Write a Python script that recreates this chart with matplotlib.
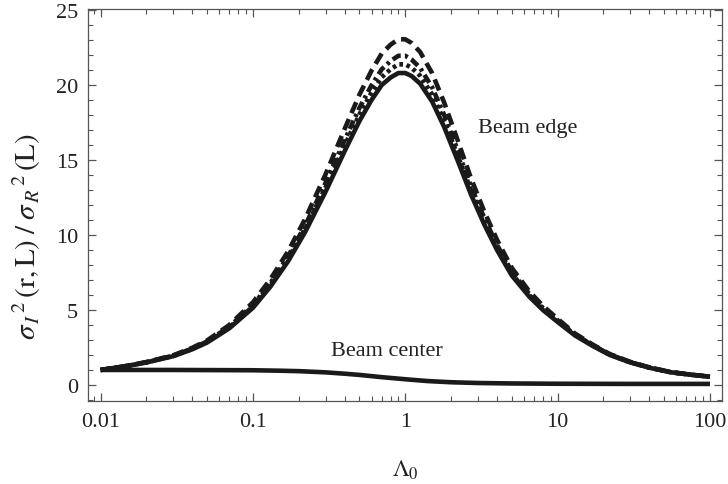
import matplotlib
matplotlib.use("Agg")
import matplotlib.pyplot as plt
from matplotlib.ticker import FixedLocator, FixedFormatter, LogLocator, MultipleLocator, NullFormatter

plt.rcParams['font.family'] = ['Liberation Serif', 'DejaVu Serif']
plt.rcParams['mathtext.fontset'] = 'stix'

# Normalised scintillation index vs. Fresnel parameter Lambda_0
lam = [0.01, 0.015, 0.02, 0.03, 0.04, 0.05, 0.07, 0.1, 0.13, 0.17, 0.22, 0.3,
       0.4, 0.5, 0.6, 0.7, 0.8, 0.9, 1.0, 1.1, 1.25, 1.5, 1.8, 2.2, 2.7, 3.3,
       4, 5, 6.5, 8, 10, 13, 17, 22, 30, 40, 55, 75, 100]

edge_solid = [1.00, 1.27, 1.50, 1.92, 2.38, 2.83, 3.78, 5.15, 6.55, 8.25, 10.2, 12.9,
              15.6, 17.6, 19.0, 20.0, 20.5, 20.8, 20.8, 20.6, 20.1, 18.9, 17.2, 15.0, 12.7, 10.7,
              9.0, 7.3, 5.9, 5.0, 4.2, 3.3, 2.6, 2.0, 1.5, 1.15, 0.85, 0.68, 0.55]

edge_dotted = [1.00, 1.27, 1.51, 1.94, 2.41, 2.87, 3.84, 5.24, 6.67, 8.42, 10.42, 13.19,
               15.97, 18.04, 19.49, 20.52, 21.05, 21.38, 21.38, 21.15, 20.62, 19.37, 17.6, 15.34, 12.97, 10.92,
               9.17, 7.43, 6.0, 5.07, 4.26, 3.34, 2.63, 2.02, 1.51, 1.16, 0.85, 0.68, 0.55]

edge_dashdot = [1.00, 1.27, 1.52, 1.95, 2.43, 2.90, 3.89, 5.33, 6.79, 8.58, 10.63, 13.48,
                16.33, 18.48, 19.98, 21.05, 21.6, 21.95, 21.95, 21.7, 21.15, 19.85, 18.0, 15.68, 13.24, 11.13,
                9.34, 7.56, 6.08, 5.14, 4.31, 3.37, 2.65, 2.03, 1.52, 1.16, 0.86, 0.68, 0.55]

edge_dashed = [1.00, 1.28, 1.53, 1.98, 2.48, 2.97, 4.00, 5.51, 7.04, 8.91, 11.07, 14.06,
               17.08, 19.36, 20.96, 22.10, 22.69, 23.05, 23.05, 22.80, 22.21, 20.79, 18.83, 16.35, 13.78, 11.56,
               9.68, 7.81, 6.25, 5.28, 4.41, 3.43, 2.69, 2.06, 1.54, 1.17, 0.86, 0.69, 0.55]

lam_center = [0.01, 0.03, 0.1, 0.15, 0.2, 0.3, 0.4, 0.5, 0.7, 1.0, 1.4, 2, 3, 5, 10, 30, 100]
center = [1.0, 1.0, 0.98, 0.95, 0.92, 0.84, 0.75, 0.67, 0.52, 0.38, 0.26, 0.18, 0.13, 0.10, 0.08, 0.07, 0.07]

x_ticks = [0.01, 0.1, 1, 10, 100]
x_tick_labels = ["0.01", "0.1", "1", "10", "100"]
y_ticks = [0, 5, 10, 15, 20, 25]

ink = '#1a1a1a'
frame = '#555555'
text_col = '#222222'
lw = 3.3

fig = plt.figure(figsize=(7.28, 4.85), dpi=100)
ax = fig.add_axes([88 / 728, 83 / 485, (722 - 88) / 728, (402 - 10) / 485])

ax.plot(lam, edge_solid, color=ink, lw=lw, solid_capstyle='butt')
ax.plot(lam, edge_dotted, color=ink, lw=lw, linestyle=(0, (0.8, 0.8)), dash_capstyle='butt')
ax.plot(lam, edge_dashdot, color=ink, lw=lw, linestyle=(0, (2.0, 0.9, 0.7, 0.9)), dash_capstyle='butt')
ax.plot(lam, edge_dashed, color=ink, lw=lw, linestyle=(0, (2.6, 1.4)), dash_capstyle='butt')
ax.plot(lam_center, center, color=ink, lw=lw, solid_capstyle='butt')

ax.set_xscale('log')
ax.set_xlim(10 ** -2.083, 10 ** 2.079)
ax.set_ylim(-1.07, 25.07)

ax.xaxis.set_major_locator(FixedLocator(x_ticks))
ax.xaxis.set_major_formatter(FixedFormatter(x_tick_labels))
ax.xaxis.set_minor_locator(LogLocator(base=10, subs=range(2, 10), numticks=20))
ax.xaxis.set_minor_formatter(NullFormatter())
ax.yaxis.set_major_locator(FixedLocator(y_ticks))
ax.yaxis.set_minor_locator(MultipleLocator(1))

ax.tick_params(which='both', direction='in', top=True, right=True, color=frame,
               labelsize=16, labelcolor=text_col)
ax.tick_params(which='major', length=6, width=0.9)
ax.tick_params(which='minor', length=3.5, width=0.8)
ax.tick_params(axis='x', which='major', pad=8)
ax.tick_params(axis='y', which='major', pad=7)
for s in ax.spines.values():
    s.set_color(frame)
    s.set_linewidth(0.9)

ax.text(2.98, 17.2, "Beam edge", fontsize=16, ha='left', va='center', color=text_col)
ax.text(0.755, 2.27, "Beam center", fontsize=16, ha='center', va='center', color=text_col)

fig.text(27 / 728, 1 - 237 / 485,
         r'${\sigma_{\,I}}^{\,2}\,(\mathrm{r}{,}\,\mathrm{L})\;/\;{\sigma_{\,R}}^{\,2}\,(\mathrm{L})$',
         rotation=90, ha='center', va='center', fontsize=21, color=text_col)
fig.text(405 / 728, 1 - 470 / 485, r'$\Lambda_0$', ha='center', va='center',
         fontsize=17, color=text_col)

fig.savefig('out.png', dpi=100)
